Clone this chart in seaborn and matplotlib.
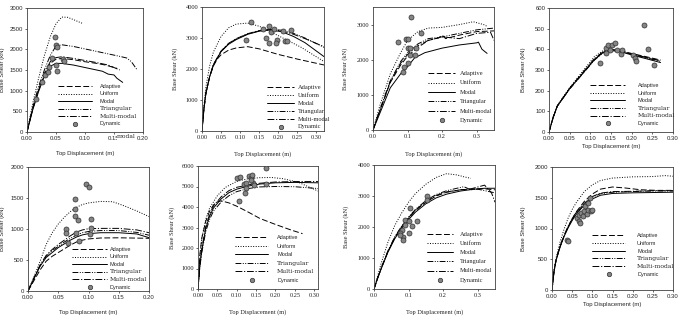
import matplotlib
matplotlib.use("Agg")
import matplotlib.pyplot as plt
import seaborn as sns
import pandas as pd
from matplotlib.lines import Line2D

methods = ["Adaptive", "Uniform", "Modal", "Triangular", "Multi-modal"]

# ---- panel 1 (top left) ----
p1_adaptive = [(0, 0), (0.01, 560), (0.02, 1010), (0.03, 1390), (0.04, 1660), (0.05, 1760), (0.06, 1780),
               (0.08, 1750), (0.10, 1700), (0.12, 1660), (0.135, 1620), (0.145, 1580), (0.155, 1540)]
p1_uniform = [(0, 0), (0.01, 700), (0.02, 1300), (0.03, 1850), (0.04, 2300), (0.05, 2620), (0.06, 2780),
              (0.07, 2775), (0.08, 2720), (0.09, 2660), (0.097, 2620)]
p1_modal = [(0, 0), (0.01, 540), (0.02, 980), (0.03, 1350), (0.04, 1590), (0.05, 1660), (0.06, 1660),
            (0.08, 1620), (0.10, 1560), (0.12, 1500), (0.13, 1470), (0.14, 1400), (0.15, 1380),
            (0.155, 1300), (0.165, 1200)]
p1_triangular = [(0, 0), (0.01, 600), (0.02, 1100), (0.03, 1500), (0.04, 1850), (0.05, 2080), (0.06, 2110),
                 (0.08, 2070), (0.10, 2010), (0.13, 1920), (0.16, 1830), (0.172, 1790), (0.18, 1700), (0.19, 1500)]
p1_multi = [(0, 0), (0.01, 570), (0.02, 1030), (0.03, 1420), (0.04, 1700), (0.05, 1800), (0.06, 1820),
            (0.08, 1780), (0.10, 1730), (0.12, 1680), (0.14, 1620), (0.15, 1560), (0.16, 1500)]
p1_dynamic = [(0.015, 800), (0.026, 1200), (0.031, 1380), (0.036, 1440), (0.038, 1580), (0.043, 1780),
              (0.048, 2310), (0.050, 2110), (0.051, 2060), (0.050, 1620), (0.051, 1480), (0.062, 1760),
              (0.063, 1720)]

# ---- panel 2 ----
p2_adaptive = [(0, 0), (0.005, 700), (0.01, 1200), (0.02, 1750), (0.03, 2100), (0.04, 2320), (0.05, 2460),
               (0.07, 2610), (0.09, 2680), (0.12, 2720), (0.15, 2650), (0.20, 2470), (0.25, 2320), (0.32, 2130)]
p2_uniform = [(0, 0), (0.005, 800), (0.01, 1400), (0.02, 2100), (0.03, 2550), (0.05, 3050), (0.07, 3330),
              (0.09, 3450), (0.12, 3480), (0.15, 3380), (0.18, 3200), (0.22, 2950), (0.26, 2700), (0.32, 2240)]
p2_modal = [(0, 0), (0.005, 700), (0.01, 1200), (0.02, 1750), (0.03, 2130), (0.05, 2560), (0.07, 2800),
            (0.09, 2950), (0.12, 3120), (0.15, 3220), (0.18, 3260), (0.21, 3200), (0.24, 3050), (0.27, 2850),
            (0.32, 2400)]
p2_triangular = [(0, 0), (0.005, 700), (0.01, 1200), (0.02, 1750), (0.03, 2140), (0.05, 2570), (0.07, 2820),
                 (0.09, 2970), (0.12, 3130), (0.15, 3230), (0.18, 3280), (0.21, 3250), (0.24, 3150),
                 (0.27, 3000), (0.32, 2700)]
p2_multi = [(0, 0), (0.005, 710), (0.01, 1210), (0.02, 1760), (0.03, 2150), (0.05, 2580), (0.07, 2830),
            (0.09, 2980), (0.12, 3140), (0.15, 3240), (0.18, 3270), (0.21, 3230), (0.24, 3120), (0.27, 2980),
            (0.32, 2720)]
p2_dynamic = [(0.128, 3510), (0.115, 2940), (0.161, 3290), (0.177, 3390), (0.182, 3180), (0.188, 3290),
              (0.169, 2990), (0.175, 2850), (0.197, 2920), (0.195, 2830), (0.212, 3240), (0.217, 2890),
              (0.223, 2890), (0.234, 3260)]

# ---- panel 3 ----
p3_adaptive = [(0, 0), (0.02, 550), (0.05, 1350), (0.08, 1850), (0.10, 2100), (0.13, 2350), (0.16, 2550),
               (0.19, 2620), (0.20, 2700), (0.21, 2600), (0.25, 2700), (0.30, 2800), (0.35, 2820)]
p3_uniform = [(0, 0), (0.02, 700), (0.05, 1600), (0.08, 2200), (0.10, 2550), (0.13, 2800), (0.16, 2900),
              (0.20, 2920), (0.25, 3000), (0.29, 3080), (0.32, 3000), (0.33, 2950)]
p3_modal = [(0, 0), (0.02, 480), (0.05, 1200), (0.08, 1600), (0.10, 1800), (0.12, 2050), (0.15, 2200),
            (0.20, 2330), (0.25, 2420), (0.30, 2480), (0.305, 2500), (0.315, 2300), (0.33, 2180)]
p3_triangular = [(0, 0), (0.02, 580), (0.05, 1400), (0.08, 1950), (0.10, 2200), (0.13, 2450), (0.16, 2600),
                 (0.20, 2650), (0.25, 2750), (0.30, 2850), (0.35, 2900)]
p3_multi = [(0, 0), (0.02, 560), (0.05, 1380), (0.08, 1900), (0.10, 2150), (0.13, 2400), (0.16, 2550),
            (0.20, 2650), (0.25, 2600), (0.30, 2750), (0.34, 2780), (0.35, 2550)]
p3_dynamic = [(0.109, 3207), (0.073, 2513), (0.095, 2580), (0.102, 2580), (0.139, 2750), (0.102, 2325),
              (0.107, 2325), (0.123, 2342), (0.107, 2134), (0.121, 2134), (0.102, 1898), (0.091, 1800),
              (0.088, 1660)]

# ---- panel 4 ----
p4_adaptive = [(0, 0), (0.01, 70), (0.02, 125), (0.05, 210), (0.08, 280), (0.11, 352), (0.13, 388),
               (0.15, 400), (0.17, 395), (0.20, 380), (0.24, 362), (0.27, 348)]
p4_uniform = [(0, 0), (0.01, 72), (0.02, 128), (0.05, 215), (0.08, 290), (0.11, 365), (0.13, 392),
              (0.145, 400), (0.17, 392), (0.20, 377), (0.24, 358), (0.26, 348)]
p4_modal = [(0, 0), (0.01, 70), (0.02, 125), (0.05, 210), (0.08, 280), (0.11, 350), (0.13, 383),
            (0.145, 395), (0.17, 390), (0.20, 373), (0.24, 352), (0.27, 336)]
p4_triangular = [(0, 0), (0.01, 70), (0.02, 125), (0.05, 208), (0.08, 278), (0.11, 348), (0.13, 382),
                 (0.145, 396), (0.17, 392), (0.20, 376), (0.24, 356), (0.27, 342)]
p4_multi = [(0, 0), (0.01, 71), (0.02, 126), (0.05, 212), (0.08, 284), (0.11, 355), (0.13, 386),
            (0.145, 398), (0.17, 393), (0.20, 378), (0.24, 359), (0.27, 345)]
p4_dynamic = [(0.124, 332), (0.137, 405), (0.143, 421), (0.147, 397), (0.153, 421), (0.159, 429),
              (0.165, 397), (0.173, 378), (0.177, 397), (0.203, 373), (0.207, 357), (0.211, 345),
              (0.229, 519), (0.240, 400), (0.253, 324), (0.139, 384)]

# ---- panel 5 ----
p5_adaptive = [(0, 0), (0.01, 170), (0.02, 340), (0.03, 480), (0.04, 560), (0.05, 620), (0.06, 680),
               (0.07, 740), (0.08, 790), (0.09, 820), (0.10, 840), (0.12, 855), (0.15, 858), (0.20, 850)]
p5_uniform = [(0, 0), (0.01, 230), (0.02, 480), (0.03, 750), (0.04, 940), (0.05, 1080), (0.06, 1190),
              (0.07, 1280), (0.08, 1350), (0.09, 1395), (0.10, 1420), (0.12, 1445), (0.14, 1440),
              (0.16, 1370), (0.18, 1290), (0.20, 1200)]
p5_modal = [(0, 0), (0.01, 200), (0.02, 400), (0.03, 540), (0.04, 620), (0.05, 700), (0.06, 760),
            (0.07, 820), (0.08, 870), (0.09, 905), (0.10, 925), (0.12, 940), (0.15, 940), (0.18, 920),
            (0.20, 860)]
p5_triangular = [(0, 0), (0.01, 210), (0.02, 410), (0.03, 560), (0.04, 650), (0.05, 720), (0.06, 790),
                 (0.07, 850), (0.08, 900), (0.09, 940), (0.10, 960), (0.12, 975), (0.15, 975), (0.18, 945),
                 (0.20, 900)]
p5_multi = [(0, 0), (0.01, 215), (0.02, 420), (0.03, 575), (0.04, 670), (0.05, 750), (0.06, 820),
            (0.07, 890), (0.08, 950), (0.09, 985), (0.10, 1005), (0.12, 1010), (0.15, 1010), (0.18, 985),
            (0.20, 940)]
p5_dynamic = [(0.062, 992), (0.063, 938), (0.066, 767), (0.078, 1491), (0.078, 1330), (0.078, 1206),
              (0.083, 1153), (0.079, 938), (0.085, 804), (0.096, 1732), (0.101, 1673), (0.104, 1164),
              (0.104, 1019), (0.102, 912)]

# ---- panel 6 ----
p6_adaptive = [(0, 0), (0.005, 1700), (0.01, 2500), (0.02, 3300), (0.03, 3800), (0.04, 4100), (0.05, 4250),
               (0.06, 4300), (0.08, 4200), (0.10, 4040), (0.13, 3750), (0.16, 3440), (0.20, 3150),
               (0.24, 2880), (0.27, 2700)]
p6_uniform = [(0, 0), (0.005, 1600), (0.01, 2500), (0.02, 3400), (0.03, 3950), (0.05, 4550), (0.07, 4950),
              (0.10, 5250), (0.13, 5380), (0.16, 5430), (0.19, 5440), (0.22, 5380), (0.26, 5200), (0.31, 4780)]
p6_modal = [(0, 0), (0.005, 1200), (0.01, 1900), (0.02, 2950), (0.03, 3550), (0.04, 3950), (0.06, 4400),
            (0.08, 4700), (0.10, 4870), (0.13, 5020), (0.16, 5120), (0.20, 5180), (0.25, 5200), (0.31, 5180)]
p6_triangular = [(0, 0), (0.005, 1100), (0.01, 1800), (0.02, 2800), (0.03, 3400), (0.04, 3800), (0.06, 4250),
                 (0.08, 4550), (0.10, 4750), (0.13, 4900), (0.16, 4980), (0.20, 5000), (0.25, 4990),
                 (0.31, 4900)]
p6_multi = [(0, 0), (0.005, 1250), (0.01, 2000), (0.02, 3050), (0.03, 3650), (0.04, 4050), (0.06, 4500),
            (0.08, 4800), (0.10, 4960), (0.13, 5080), (0.16, 5160), (0.20, 5220), (0.25, 5240), (0.31, 5240)]
p6_dynamic = [(0.176, 5920), (0.101, 5430), (0.109, 5460), (0.132, 5510), (0.136, 5430), (0.139, 5560),
              (0.119, 5100), (0.125, 5190), (0.123, 4940), (0.141, 5190), (0.145, 5070), (0.122, 4700),
              (0.106, 4290), (0.176, 5100), (0.136, 5300)]

# ---- panel 7 ----
p7_adaptive = [(0, 0), (0.01, 330), (0.02, 640), (0.04, 1200), (0.06, 1650), (0.08, 2000), (0.10, 2280),
               (0.12, 2530), (0.15, 2800), (0.18, 3000), (0.21, 3120), (0.25, 3200), (0.29, 3230),
               (0.32, 3230), (0.35, 3200)]
p7_uniform = [(0, 0), (0.01, 400), (0.02, 800), (0.04, 1500), (0.06, 2050), (0.08, 2450), (0.10, 2800),
              (0.12, 3080), (0.15, 3380), (0.18, 3600), (0.21, 3720), (0.24, 3680), (0.26, 3620), (0.28, 3570)]
p7_modal = [(0, 0), (0.01, 330), (0.02, 630), (0.04, 1180), (0.06, 1620), (0.08, 1960), (0.10, 2240),
            (0.12, 2480), (0.15, 2750), (0.18, 2940), (0.21, 3060), (0.25, 3160), (0.29, 3220), (0.32, 3250),
            (0.35, 3250)]
p7_triangular = [(0, 0), (0.01, 340), (0.02, 650), (0.04, 1220), (0.06, 1680), (0.08, 2030), (0.10, 2320),
                 (0.12, 2570), (0.15, 2850), (0.18, 3050), (0.21, 3170), (0.24, 3250), (0.26, 3300),
                 (0.28, 3200), (0.30, 3220), (0.33, 3150), (0.35, 3100)]
p7_multi = [(0, 0), (0.01, 335), (0.02, 645), (0.04, 1210), (0.06, 1660), (0.08, 2010), (0.10, 2300),
            (0.12, 2550), (0.15, 2820), (0.18, 3020), (0.21, 3130), (0.25, 3200), (0.28, 3230), (0.32, 3350),
            (0.34, 3100), (0.35, 2800)]
p7_dynamic = [(0.105, 2616), (0.152, 3016), (0.152, 2886), (0.090, 2238), (0.100, 2184), (0.090, 2076),
              (0.110, 2022), (0.125, 2205), (0.080, 1913), (0.075, 1805), (0.100, 1805), (0.083, 1665),
              (0.085, 1589), (0.074, 1751)]

# ---- panel 8 ----
p8_adaptive = [(0, 0), (0.005, 300), (0.01, 480), (0.02, 700), (0.03, 880), (0.04, 1030), (0.05, 1160),
               (0.06, 1270), (0.08, 1440), (0.10, 1560), (0.12, 1640), (0.15, 1675), (0.18, 1660),
               (0.22, 1630), (0.26, 1620), (0.30, 1620)]
p8_uniform = [(0, 0), (0.005, 320), (0.01, 520), (0.02, 780), (0.03, 990), (0.04, 1170), (0.05, 1310),
              (0.06, 1420), (0.08, 1600), (0.10, 1710), (0.12, 1780), (0.15, 1820), (0.20, 1840),
              (0.25, 1845), (0.28, 1860), (0.30, 1850)]
p8_modal = [(0, 0), (0.005, 300), (0.01, 480), (0.02, 700), (0.03, 870), (0.04, 1010), (0.05, 1130),
            (0.06, 1230), (0.08, 1380), (0.10, 1480), (0.12, 1540), (0.15, 1570), (0.20, 1580), (0.25, 1585),
            (0.30, 1590)]
p8_triangular = [(0, 0), (0.005, 300), (0.01, 485), (0.02, 710), (0.03, 880), (0.04, 1025), (0.05, 1145),
                 (0.06, 1250), (0.08, 1400), (0.10, 1510), (0.12, 1565), (0.15, 1590), (0.20, 1600),
                 (0.25, 1610), (0.30, 1610)]
p8_multi = [(0, 0), (0.005, 305), (0.01, 490), (0.02, 715), (0.03, 890), (0.04, 1035), (0.05, 1155),
            (0.06, 1260), (0.08, 1410), (0.10, 1520), (0.12, 1575), (0.15, 1600), (0.20, 1605), (0.25, 1615),
            (0.30, 1615)]
p8_dynamic = [(0.037, 805), (0.039, 795), (0.062, 1173), (0.066, 1216), (0.068, 1130), (0.070, 1092),
              (0.072, 1254), (0.076, 1200), (0.080, 1281), (0.082, 1362), (0.090, 1416), (0.093, 1497),
              (0.088, 1238), (0.090, 1308), (0.096, 1292), (0.099, 1308)]

# axis ranges / ticks
p1_xticks = [0, 0.05, 0.10, 0.15, 0.20]; p1_yticks = [0, 500, 1000, 1500, 2000, 2500, 3000]
p2_xticks = [0, 0.05, 0.10, 0.15, 0.20, 0.25, 0.30]; p2_yticks = [0, 1000, 2000, 3000, 4000]
p3_xticks = [0, 0.1, 0.2, 0.3]; p3_yticks = [0, 1000, 2000, 3000]
p4_xticks = [0, 0.05, 0.10, 0.15, 0.20, 0.25, 0.30]; p4_yticks = [0, 100, 200, 300, 400, 500, 600]
p5_xticks = [0, 0.05, 0.10, 0.15, 0.20]; p5_yticks = [0, 500, 1000, 1500, 2000]
p6_xticks = [0, 0.05, 0.10, 0.15, 0.20, 0.25, 0.30]; p6_yticks = [0, 1000, 2000, 3000, 4000, 5000, 6000]
p7_xticks = [0, 0.1, 0.2, 0.3]; p7_yticks = [0, 1000, 2000, 3000, 4000]
p8_xticks = [0, 0.05, 0.10, 0.15, 0.20, 0.25, 0.30]; p8_yticks = [0, 500, 1000, 1500, 2000]

W, H = 685, 318
SANS = "Liberation Sans"
TIMES = "Liberation Serif"
DSERIF = "DejaVu Serif"

dash_map = {"Adaptive": (6, 2.5), "Uniform": (1, 1.6), "Modal": "",
            "Triangular": (6, 1.5, 1, 1.5, 1, 1.5), "Multi-modal": (7, 1.8, 1.2, 1.8)}

# layout: axes box in pixels, fonts, label positions, legend placement
panels = [
    dict(curves=[p1_adaptive, p1_uniform, p1_modal, p1_triangular, p1_multi], dyn=p1_dynamic,
         box=(27, 8, 143, 132), xlim=(0, 0.20), ylim=(0, 3000), xt=p1_xticks, yt=p1_yticks, xfmt="%.2f",
         font=SANS, ylab_x=2, xlab_y=154, leg=(58, 84, 34, 8, 0.45), legf="sssdds"),
    dict(curves=[p2_adaptive, p2_uniform, p2_modal, p2_triangular, p2_multi], dyn=p2_dynamic,
         box=(202, 7, 324, 131), xlim=(0, 0.32), ylim=(0, 4000), xt=p2_xticks, yt=p2_yticks, xfmt="%.2f",
         font=TIMES, ylab_x=175, xlab_y=154, leg=(267, 85, 27, 4, 0.52), legf="tttttt"),
    dict(curves=[p3_adaptive, p3_uniform, p3_modal, p3_triangular, p3_multi], dyn=p3_dynamic,
         box=(373, 7, 494, 130), xlim=(0, 0.35), ylim=(0, 3500), xt=p3_xticks, yt=p3_yticks, xfmt="%.1f",
         font=TIMES, ylab_x=345, xlab_y=154, leg=(428, 71, 27, 5, 0.8), legf="tttttt"),
    dict(curves=[p4_adaptive, p4_uniform, p4_modal, p4_triangular, p4_multi], dyn=p4_dynamic,
         box=(549, 8, 673, 132), xlim=(0, 0.30), ylim=(0, 600), xt=p4_xticks, yt=p4_yticks, xfmt="%.2f",
         font=SANS, ylab_x=523, xlab_y=147, leg=(590, 83, 35, 13, 0.47), legf="sssdds"),
    dict(curves=[p5_adaptive, p5_uniform, p5_modal, p5_triangular, p5_multi], dyn=p5_dynamic,
         box=(28, 167, 149, 291), xlim=(0, 0.20), ylim=(0, 2000), xt=p5_xticks, yt=p5_yticks, xfmt="%.2f",
         font=SANS, ylab_x=2, xlab_y=313, leg=(72, 247, 35, 3, 0.45), legf="sssdds"),
    dict(curves=[p6_adaptive, p6_uniform, p6_modal, p6_triangular, p6_multi], dyn=p6_dynamic,
         box=(198, 166, 318, 289), xlim=(0, 0.31), ylim=(0, 6000), xt=p6_xticks, yt=p6_yticks, xfmt="%.2f",
         font=TIMES, ylab_x=172, xlab_y=312, leg=(235, 235, 33, 9, 0.64), legf="sssdds"),
    dict(curves=[p7_adaptive, p7_uniform, p7_modal, p7_triangular, p7_multi], dyn=p7_dynamic,
         box=(374, 165, 495, 289), xlim=(0, 0.35), ylim=(0, 4000), xt=p7_xticks, yt=p7_yticks, xfmt="%.1f",
         font=TIMES, ylab_x=346, xlab_y=312, leg=(427, 232, 26, 7, 0.74), legf="tttttt"),
    dict(curves=[p8_adaptive, p8_uniform, p8_modal, p8_triangular, p8_multi], dyn=p8_dynamic,
         box=(552, 167, 673, 290), xlim=(0, 0.30), ylim=(0, 2000), xt=p8_xticks, yt=p8_yticks, xfmt="%.2f",
         font=SANS, ylab_x=523, xlab_y=305, leg=(592, 233, 33, 12, 0.5), legf="sssdds"),
]

leg_fonts = {"s": (SANS, 4.0), "t": (TIMES, 4.6), "d": (DSERIF, 4.4)}

sns.set_style("white")
fig = plt.figure(figsize=(W / 100, H / 100), dpi=100)

for p in panels:
    x0, y0, x1, y1 = p["box"]
    ax = fig.add_axes([x0 / W, 1 - y1 / H, (x1 - x0) / W, (y1 - y0) / H])
    rows = []
    for m, pts in zip(methods, p["curves"]):
        for x, y in pts:
            rows.append((m, x, y))
    df = pd.DataFrame(rows, columns=["method", "x", "y"])
    sns.lineplot(data=df, x="x", y="y", style="method", dashes=dash_map, color="black",
                 linewidth=0.7, estimator=None, sort=False, legend=False, ax=ax)
    dyn = pd.DataFrame(p["dyn"], columns=["x", "y"])
    sns.scatterplot(data=dyn, x="x", y="y", color="#858585", edgecolor="#303030", linewidth=0.5,
                    s=13, zorder=3, ax=ax)

    ax.set_xlim(*p["xlim"]); ax.set_ylim(*p["ylim"])
    ax.set_xticks(p["xt"]); ax.set_yticks(p["yt"])
    fs = 4.3 if p["font"] == SANS else 4.6
    ax.set_xticklabels([p["xfmt"] % t for t in p["xt"]], fontfamily=p["font"], fontsize=fs)
    ax.set_yticklabels([str(t) for t in p["yt"]], fontfamily=p["font"], fontsize=fs)
    ax.tick_params(length=1.5, width=0.5, pad=1.2, direction="out", bottom=True, left=True)
    for s in ax.spines.values():
        s.set_linewidth(0.6); s.set_color("#404040")

    w, h = x1 - x0, y1 - y0
    ax.set_xlabel("Top Displacement (m)", fontfamily=p["font"], fontsize=fs)
    ax.set_ylabel("Base Shear (kN)", fontfamily=p["font"], fontsize=fs)
    ax.xaxis.set_label_coords(0.5, (y1 - (p["xlab_y"] - 3)) / h)
    ax.yaxis.set_label_coords((p["ylab_x"] + 3 - x0) / w, 0.5)

    # legend
    lx, ly, hl, hp, lsp = p["leg"]
    base_px = 4.0 * 100 / 72
    handles = [Line2D([], [], color="black", lw=0.7, linestyle=(0, dash_map[m]) if dash_map[m] else "-")
               for m in methods]
    handles.append(Line2D([], [], linestyle="", marker="o", markersize=3.2, markerfacecolor="#858585",
                          markeredgecolor="#303030", markeredgewidth=0.5))
    leg = ax.legend(handles, methods + ["Dynamic"], loc="upper left",
                    bbox_to_anchor=(lx / W, 1 - ly / H), bbox_transform=fig.transFigure,
                    frameon=False, borderpad=0, borderaxespad=0, fontsize=4.0,
                    handlelength=hl / base_px, handletextpad=hp / base_px, labelspacing=lsp)
    for t, code in zip(leg.get_texts(), p["legf"]):
        fam, size = leg_fonts[code]
        t.set_fontfamily(fam); t.set_fontsize(size)

# stray "modal" text sitting over a tick label in the first panel (as in the source figure)
fig.text(117 / W, 1 - 137 / H, "modal", fontfamily=DSERIF, fontsize=4.4, va="center", ha="left",
         bbox=dict(facecolor="white", edgecolor="none", pad=0.2))

fig.savefig("out.png", dpi=100)
